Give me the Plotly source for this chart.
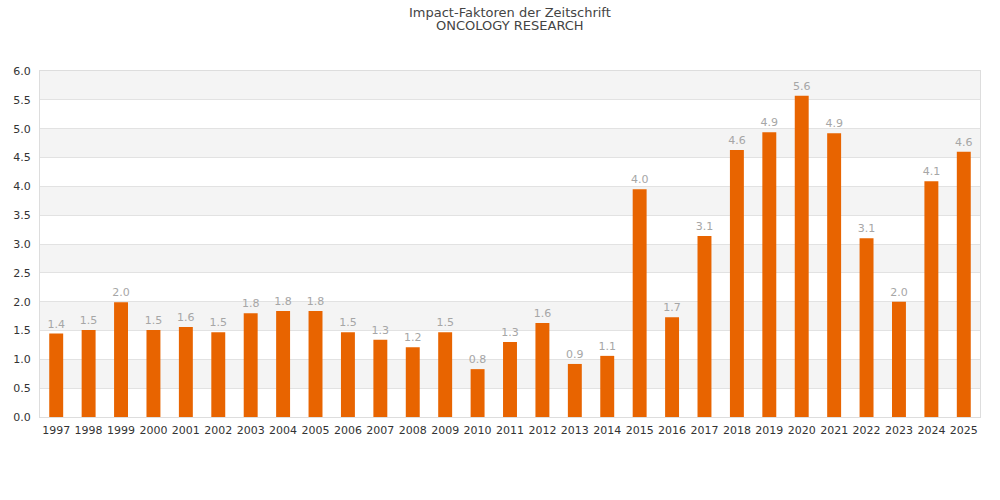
import plotly.graph_objects as go

years = [str(y) for y in range(1997, 2026)]
impact = [1.446, 1.51, 1.99, 1.51, 1.56, 1.47, 1.80, 1.84, 1.84, 1.47,
          1.34, 1.21, 1.47, 0.83, 1.30, 1.63, 0.92, 1.06, 3.95, 1.73,
          3.14, 4.63, 4.94, 5.57, 4.92, 3.10, 2.00, 4.09, 4.60]

y_ticks = [i * 0.5 for i in range(13)]
title_lines = ["Impact-Faktoren der Zeitschrift", "ONCOLOGY RESEARCH"]

fig = go.Figure(go.Bar(
    x=years,
    y=impact,
    marker=dict(color="#e86400", line=dict(width=0)),
    text=[f"{v:.1f}" for v in impact],
    textposition="outside",
    constraintext="none",
    textfont=dict(color="#a6a6a6", size=11),
    cliponaxis=False,
    hoverinfo="x+y",
))

# alternating background bands
shapes = []
for i in range(len(y_ticks) - 1):
    if i % 2 == 1:
        shapes.append(dict(type="rect", xref="paper", yref="y", layer="below",
                           x0=0, x1=1, y0=y_ticks[i], y1=y_ticks[i + 1],
                           fillcolor="#f4f4f4", line=dict(width=0)))

# two tight title lines
for line, shift in zip(title_lines, [59, 46]):
    fig.add_annotation(text=line, xref="paper", yref="paper", x=0.5, y=1,
                       xanchor="center", yanchor="middle", yshift=shift,
                       showarrow=False, font=dict(size=13, color="#444444"))

fig.update_layout(
    width=1000, height=500,
    margin=dict(l=40, r=20, t=71, b=83),
    paper_bgcolor="white", plot_bgcolor="white",
    font=dict(family="DejaVu Sans", size=11, color="#333333"),
    bargap=0.57,
    shapes=shapes,
    showlegend=False,
)
fig.update_xaxes(showgrid=False, showline=True, linecolor="#dddddd", mirror=True,
                 ticks="", ticklabelstandoff=3,
                 tickfont=dict(size=11, color="#333333"), tickangle=0)
fig.update_yaxes(range=[0, 6], tickvals=y_ticks, tickformat=".1f",
                 showgrid=True, gridcolor="#e2e2e2", gridwidth=1,
                 showline=True, linecolor="#dddddd", mirror=True,
                 zeroline=False, ticks="", ticklabelstandoff=6,
                 tickfont=dict(size=11, color="#333333"))

fig.write_html("out.html", config={"displayModeBar": False},
               post_script="document.body.style.margin = '0';")
